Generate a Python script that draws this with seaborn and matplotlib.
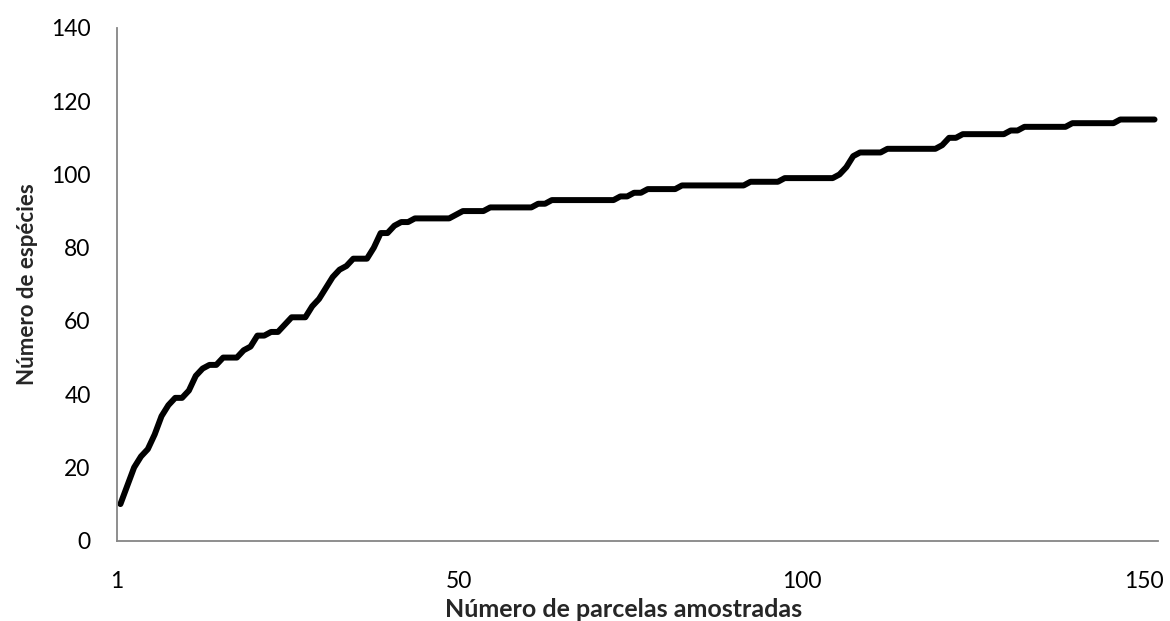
import numpy as np
import pandas as pd
import matplotlib
matplotlib.use("Agg")
import matplotlib.pyplot as plt
import seaborn as sns

# ---- data ----
especies = [
    10, 15, 20, 23, 25, 29, 34, 37, 39, 39,
    41, 45, 47, 48, 48, 50, 50, 50, 52, 53,
    56, 56, 57, 57, 59, 61, 61, 61, 64, 66,
    69, 72, 74, 75, 77, 77, 77, 80, 84, 84,
    86, 87, 87,
] + [88] * 6 + [89] + [90] * 4 + [91] * 7 + [92] * 2 + [93] * 10 \
  + [94] * 2 + [95] * 2 + [96] * 5 + [97] * 10 + [98] * 5 + [99] * 8 \
  + [100, 102, 105] + [106] * 4 + [107] * 8 + [108] + [110] * 2 \
  + [111] * 7 + [112] * 2 + [113] * 7 + [114] * 7 + [115] * 6
parcelas = list(range(1, len(especies) + 1))

xtick_labels = ["1", "50", "100", "150"]
ytick_values = [0, 20, 40, 60, 80, 100, 120, 140]
xlabel = "Número de parcelas amostradas"
ylabel = "Número de espécies"

# ---- style ----
sns.set_style("white")
plt.rcParams["font.family"] = ["Lato", "DejaVu Sans"]

df = pd.DataFrame({"parcela": parcelas, "especies": especies})
# category-style axis: each plot sits in the middle of its slot
df["pos"] = df["parcela"] - 0.5

fig = plt.figure(figsize=(11.70, 6.21), dpi=100)
ax = fig.add_axes([0.1, 0.1293, 0.8897, 0.8257])

sns.lineplot(data=df, x="pos", y="especies", ax=ax, color="black",
             linewidth=4.3, solid_capstyle="round", solid_joinstyle="round")

ax.set_xlim(0, len(especies))
ax.set_ylim(0, 140)
ax.set_xticks([0, 50, 100, 150])
ax.set_xticklabels(xtick_labels)
ax.set_yticks(ytick_values)

gray = "#868686"
for side in ["top", "right"]:
    ax.spines[side].set_visible(False)
for side in ["left", "bottom"]:
    ax.spines[side].set_color(gray)
    ax.spines[side].set_linewidth(1.3)

ax.tick_params(axis="both", which="major", direction="out", length=5,
               width=1.3, color=gray, labelsize=16.5, labelcolor="black")
ax.tick_params(axis="y", pad=14)
ax.tick_params(axis="x", pad=17)

ax.set_xlabel(xlabel, fontsize=18, fontweight="bold")
ax.set_ylabel(ylabel, fontsize=16, fontweight="bold", labelpad=9)
ax.xaxis.set_label_coords(0.487, -0.134, transform=ax.transAxes)
ax.xaxis.label.set_va("center")
ax.grid(False)

fig.savefig("out.png", dpi=100)
